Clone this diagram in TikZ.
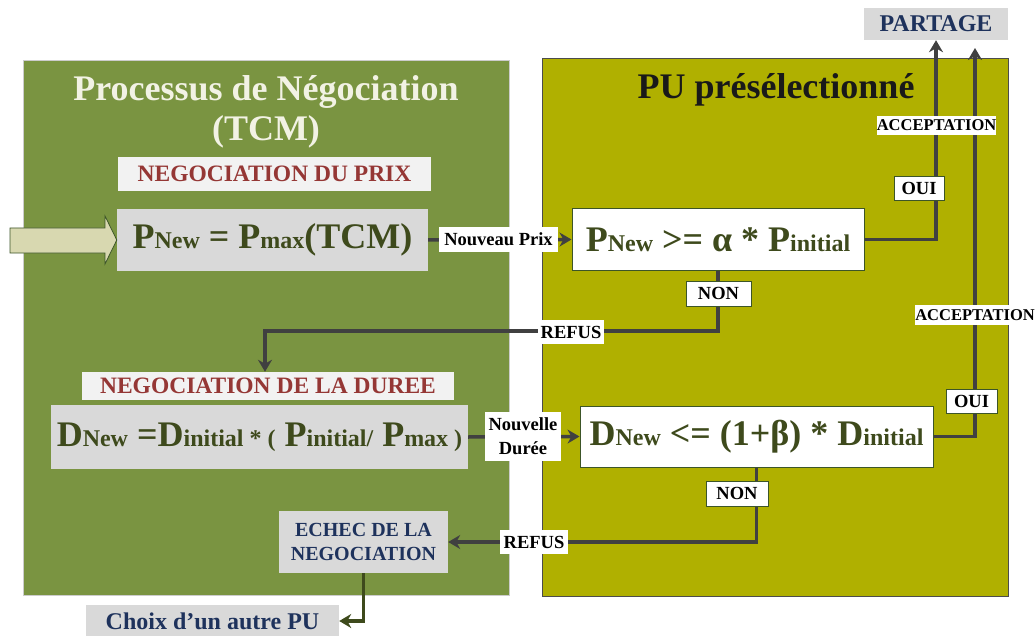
\documentclass[tikz,border=0pt]{standalone}
\usepackage{fontspec}
\setmainfont{Liberation Serif}
\usetikzlibrary{arrows.meta,positioning,calc}

\definecolor{panelgreen}{RGB}{122,148,65}
\definecolor{paneloliv}{RGB}{176,176,0}
\definecolor{formgreen}{RGB}{62,74,28}
\definecolor{headred}{RGB}{149,55,53}
\definecolor{navytext}{RGB}{30,50,92}
\definecolor{linegray}{RGB}{64,64,64}
\definecolor{boxgray}{RGB}{217,217,217}
\definecolor{headgray}{RGB}{242,242,242}
\definecolor{arrowkhaki}{RGB}{216,216,176}
\definecolor{edgegreen}{RGB}{60,85,40}
\definecolor{titlecream}{RGB}{242,242,228}

\newcommand{\fbig}[1]{{\fontsize{36}{40}\selectfont #1}}
\newcommand{\fsub}[1]{{\fontsize{24}{28}\selectfont #1}}

\tikzset{
  formbox/.style={fill=boxgray, text=formgreen, font=\bfseries, inner sep=0pt},
  testbox/.style={formbox, fill=white, draw=edgegreen, line width=1pt},
  headbox/.style={fill=headgray, text=headred, inner sep=0pt,
    font=\bfseries\fontsize{23.5}{26}\selectfont},
  graybox/.style={fill=boxgray, text=navytext, inner sep=0pt, align=center},
  lbl/.style={fill=white, text=black, inner sep=0pt, align=center,
    font=\bfseries\fontsize{18.5}{24}\selectfont},
  lblbox/.style={lbl, draw=edgegreen, line width=0.8pt},
  conn/.style={draw=linegray, line width=3.5pt, -{Stealth[length=12pt,width=14pt]}},
}

\begin{document}
\begin{tikzpicture}[x=1pt, y=-1pt]
\useasboundingbox (0,0) rectangle (1035,636);

% panels
\filldraw[fill=panelgreen, draw=gray!40, line width=0.8pt] (23,60) rectangle (509,595);
\filldraw[fill=paneloliv, draw=gray!60!black, line width=1pt] (542,59) rectangle (1008,596);

\node[text=titlecream, align=center, font=\bfseries\fontsize{36}{40}\selectfont]
  (tcm) at (266,112) {Processus de Négociation\\(TCM)};
\node[text=black!90, font=\bfseries\fontsize{36}{40}\selectfont]
  (pu) at (776,90) {PU présélectionné};

% boxes
\node[headbox, minimum width=313, minimum height=34] (prixhead) at (274.5,174) {NEGOCIATION DU PRIX};
\node[formbox, minimum width=311, minimum height=62] (pnew) at (272.5,240)
  {\fbig{P}\fsub{New}\fbig{\ = P}\fsub{max}\fbig{(TCM)}};
\node[testbox, minimum width=292, minimum height=61] (test1) at (718,239.5)
  {\fbig{P}\fsub{New}\fbig{\ >= α * P}\fsub{initial}};
\node[headbox, minimum width=372, minimum height=28] (dureehead) at (268,386) {NEGOCIATION DE LA DUREE};
\node[formbox, minimum width=417, minimum height=64] (dnew) at (259.5,437)
  {\fbig{D}\fsub{New}\fbig{\ =D}\fsub{initial * (}\fbig{\ P}\fsub{initial/}\fbig{\ P}\fsub{max )}};
\node[testbox, minimum width=353, minimum height=61] (test2) at (756.5,436.5)
  {\fbig{D}\fsub{New}\fbig{\ <= (1+β) * D}\fsub{initial}};
\node[graybox, minimum width=169, minimum height=62, font=\bfseries\fontsize{20}{24}\selectfont]
  (echec) at (363.5,542) {ECHEC DE LA\\NEGOCIATION};
\node[graybox, minimum width=253, minimum height=32, font=\bfseries\fontsize{24}{26}\selectfont]
  (choix) at (212.5,621) {Choix d’un autre PU};
\node[graybox, minimum width=144, minimum height=32, font=\bfseries\fontsize{24}{26}\selectfont]
  (partage) at (936,24) {PARTAGE};

% entry arrow
\filldraw[fill=arrowkhaki, draw=edgegreen, line width=0.8pt]
  (10,228) -- (105,228) -- (105,216) -- (pnew.west) -- (105,264) -- (105,253) -- (10,253) -- cycle;

% connectors
\coordinate (bend1) at (265,331);
\coordinate (acctop) at (975,48);
\draw[conn] (pnew.east) -- (test1.west);
\draw[conn] (test1.south) |- (bend1) -- (bend1 |- dureehead.north);
\draw[conn] (test1.east) -| (partage.south);
\draw[conn] (test2.east) -| (acctop);
\draw[conn] (dnew.east) -- (test2.west);
\draw[conn] (test2.south) |- (echec.east);
\draw[conn, draw=formgreen] (echec.south) |- (choix.east);

% labels
\node[lbl, minimum width=119, minimum height=25] (nprix) at (498.5,239.5) {Nouveau Prix};
\node[lblbox, minimum width=65, minimum height=25] (non1) at (718.5,293.5) {NON};
\node[lbl, minimum width=66, minimum height=24] (refus1) at (571,332) {REFUS};
\node[lblbox, minimum width=50, minimum height=24] (oui1) at (919,188) {OUI};
\node[lbl, minimum width=119, minimum height=19, font=\bfseries\fontsize{16.5}{18}\selectfont] (acc1) at (936.5,125.5) {ACCEPTATION};
\node[lbl, minimum width=120, minimum height=20, font=\bfseries\fontsize{16.5}{18}\selectfont] (acc2) at (975,315) {ACCEPTATION};
\node[lblbox, minimum width=51, minimum height=24] (oui2) at (971.5,401) {OUI};
\node[lbl, minimum width=76, minimum height=49] (ndur) at (523,436.5) {Nouvelle\\Durée};
\node[lblbox, minimum width=62, minimum height=25] (non2) at (737,493.5) {NON};
\node[lbl, minimum width=68, minimum height=24] (refus2) at (534,542) {REFUS};
\end{tikzpicture}
\end{document}
